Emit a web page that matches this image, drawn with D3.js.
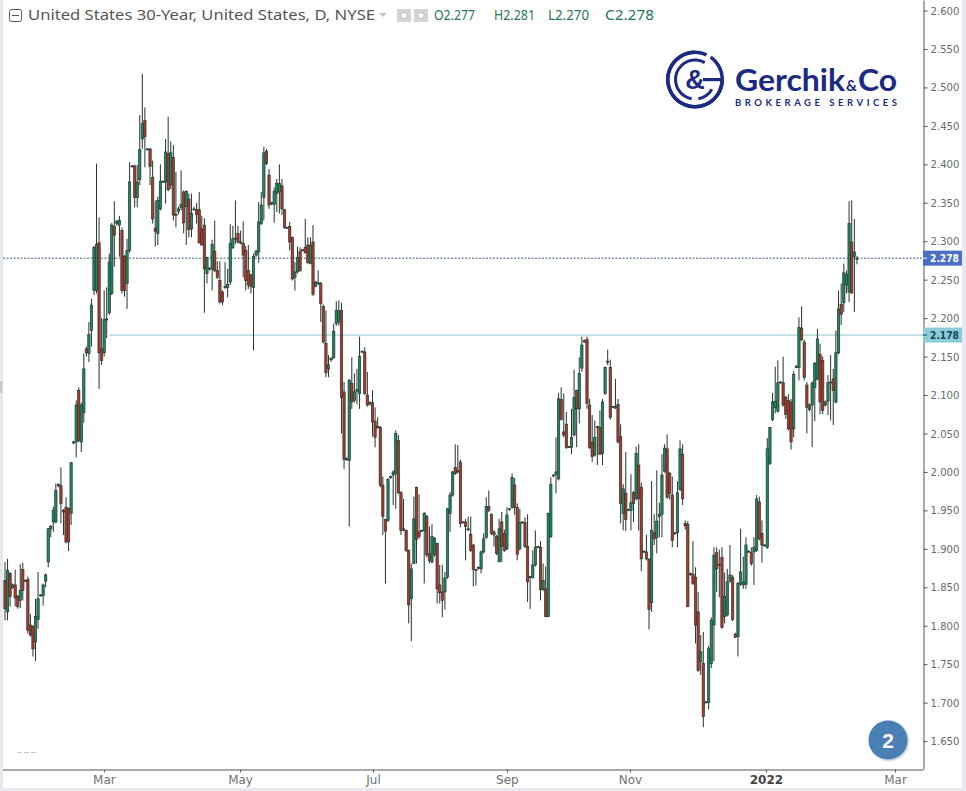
<!DOCTYPE html>
<html><head><meta charset="utf-8">
<script src="https://cdn.jsdelivr.net/npm/d3@7"></script>
<style>
html,body{margin:0;padding:0;background:#fff;overflow:hidden}
svg{display:block}
text{font-family:"Noto Sans",sans-serif}
</style></head><body>
<svg id="c" width="966" height="791"></svg>
<script>
const title = "United States 30-Year, United States, D, NYSE";
const ohlcLabels = ["O2.277","H2.281","L2.270","C2.278"];
const opens = [
1.859,1.818,1.868,1.850,1.853,1.838,1.833,1.873,1.858,1.860,
1.801,1.799,1.779,1.808,1.839,1.839,1.858,1.883,1.926,1.935,
1.935,1.984,1.982,1.950,1.954,1.952,1.946,2.038,2.039,2.106,
2.039,2.077,2.160,2.154,2.184,2.236,2.236,2.298,2.160,2.155,
2.198,2.207,2.232,2.319,2.323,2.321,2.314,2.280,2.245,2.288,
2.398,2.398,2.357,2.380,2.433,2.457,2.420,2.420,2.383,2.317,
2.310,2.342,2.377,2.377,2.414,2.373,2.409,2.334,2.339,2.344,
2.364,2.345,2.355,2.316,2.341,2.341,2.341,2.316,2.321,2.258,
2.264,2.264,2.287,2.262,2.249,2.234,2.240,2.240,2.247,2.292,
2.303,2.310,2.298,2.297,2.288,2.262,2.256,2.240,2.282,2.286,
2.323,2.357,2.417,2.386,2.350,2.348,2.362,2.364,2.372,2.341,
2.318,2.319,2.305,2.253,2.260,2.287,2.289,2.292,2.295,2.271,
2.299,2.241,2.245,2.245,2.215,2.167,2.134,2.146,2.149,2.193,
2.195,2.210,2.104,2.017,2.015,2.115,2.093,2.105,2.102,2.156,
2.156,2.100,2.089,2.090,2.066,2.058,2.058,1.983,1.938,1.937,
1.993,1.996,1.998,2.041,1.973,1.925,1.924,1.898,1.835,1.881,
1.980,1.922,1.923,1.924,1.942,1.894,1.883,1.893,1.907,1.853,
1.844,1.844,1.863,1.946,1.970,2.006,2.002,2.013,1.935,1.935,
1.925,1.919,1.905,1.873,1.875,1.874,1.896,1.915,1.955,1.945,
1.922,1.916,1.883,1.935,1.920,1.900,1.951,1.954,1.983,1.954,
1.900,1.934,1.934,1.903,1.863,1.863,1.879,1.902,1.902,1.847,
1.848,1.812,1.916,1.995,1.997,1.991,2.094,2.052,2.062,2.032,
2.032,2.048,2.106,2.082,2.135,2.169,2.172,2.087,2.039,2.022,
2.058,2.058,2.024,2.102,2.143,2.136,2.084,2.083,2.088,2.046,
1.946,1.972,1.950,1.950,1.973,1.965,2.009,1.980,1.896,1.896,
1.886,1.830,1.921,1.915,1.942,1.945,2.001,2.030,1.998,1.970,
1.920,1.921,1.977,2.023,1.933,1.932,1.867,1.867,1.863,1.818,
1.753,1.751,1.700,1.700,1.751,1.801,1.895,1.879,1.889,1.812,
1.814,1.858,1.863,1.789,1.786,1.854,1.853,1.854,1.896,1.895,
1.896,1.898,1.961,1.920,1.904,1.902,2.011,2.068,2.084,2.079,
2.116,2.116,2.097,2.093,2.091,2.056,2.137,2.136,2.187,2.169,
2.113,2.081,2.087,2.110,2.121,2.153,2.145,2.087,2.092,2.116,
2.121,2.091,2.155,2.218,2.220,2.243,2.234,2.299,2.280,2.277];
const highs = [
1.883,1.887,1.870,1.855,1.873,1.840,1.880,1.882,1.860,1.864,
1.815,1.801,1.835,1.870,1.841,1.855,1.868,1.927,1.931,1.955,
1.985,1.985,2.006,1.952,1.967,1.954,2.013,2.040,2.093,2.110,
2.090,2.154,2.163,2.195,2.225,2.294,2.401,2.331,2.200,2.236,
2.240,2.284,2.324,2.352,2.328,2.333,2.318,2.282,2.303,2.403,
2.399,2.399,2.399,2.464,2.518,2.474,2.421,2.421,2.405,2.353,
2.358,2.400,2.379,2.433,2.462,2.430,2.425,2.390,2.345,2.392,
2.366,2.366,2.362,2.362,2.345,2.350,2.364,2.333,2.330,2.280,
2.266,2.302,2.327,2.274,2.274,2.236,2.273,2.264,2.322,2.320,
2.353,2.320,2.314,2.326,2.294,2.295,2.258,2.284,2.289,2.351,
2.364,2.423,2.420,2.394,2.351,2.370,2.381,2.400,2.381,2.342,
2.319,2.325,2.306,2.273,2.293,2.292,2.290,2.329,2.305,2.305,
2.321,2.248,2.262,2.247,2.218,2.210,2.152,2.149,2.193,2.222,
2.223,2.220,2.117,2.019,2.121,2.149,2.128,2.134,2.176,2.158,
2.162,2.130,2.092,2.106,2.084,2.071,2.060,1.994,1.939,1.992,
1.995,2.002,2.054,2.048,1.975,1.965,1.925,1.899,1.881,1.968,
1.981,1.971,1.925,1.948,1.944,1.929,1.932,1.915,1.908,1.879,
1.879,1.870,1.953,1.974,2.001,2.036,2.035,2.016,1.936,1.939,
1.942,1.942,1.906,1.874,1.877,1.898,1.920,1.967,1.976,1.946,
1.924,1.918,1.939,1.948,1.925,1.954,1.953,1.998,1.992,1.959,
1.952,1.936,1.941,1.945,1.865,1.898,1.924,1.904,1.910,1.881,
1.877,1.947,1.993,1.997,2.045,2.103,2.110,2.102,2.078,2.034,
2.082,2.133,2.107,2.149,2.176,2.172,2.176,2.095,2.074,2.067,
2.060,2.080,2.095,2.137,2.159,2.146,2.086,2.121,2.095,2.062,
1.984,2.026,1.952,1.997,1.975,2.033,2.036,1.986,1.898,1.918,
1.888,1.988,1.945,2.002,1.960,2.023,2.036,2.049,2.000,1.994,
1.922,1.988,2.041,2.036,1.937,1.936,1.869,1.910,1.876,1.844,
1.788,1.792,1.702,1.774,1.811,1.902,1.902,1.899,1.902,1.869,
1.874,1.905,1.866,1.791,1.857,1.926,1.890,1.915,1.898,1.902,
1.915,1.970,1.968,1.937,1.906,2.044,2.058,2.103,2.137,2.145,
2.118,2.150,2.099,2.101,2.095,2.131,2.139,2.201,2.215,2.172,
2.117,2.089,2.118,2.143,2.186,2.167,2.150,2.093,2.126,2.152,
2.134,2.184,2.236,2.245,2.271,2.262,2.352,2.353,2.329,2.281];
const lows = [
1.807,1.807,1.825,1.848,1.825,1.822,1.823,1.833,1.857,1.790,
1.786,1.760,1.754,1.796,1.838,1.826,1.850,1.876,1.915,1.922,
1.933,1.980,1.933,1.918,1.907,1.897,1.931,2.036,2.019,2.039,
2.026,2.064,2.150,2.143,2.163,2.230,2.232,2.108,2.139,2.150,
2.174,2.204,2.230,2.267,2.320,2.280,2.232,2.228,2.212,2.285,
2.396,2.344,2.344,2.373,2.420,2.396,2.419,2.373,2.323,2.293,
2.295,2.340,2.376,2.349,2.365,2.368,2.327,2.318,2.335,2.340,
2.310,2.295,2.305,2.305,2.340,2.323,2.297,2.295,2.207,2.245,
2.262,2.236,2.260,2.251,2.219,2.217,2.238,2.227,2.243,2.290,
2.296,2.297,2.296,2.253,2.236,2.238,2.232,2.158,2.280,2.272,
2.321,2.327,2.399,2.342,2.347,2.324,2.338,2.336,2.334,2.316,
2.317,2.288,2.249,2.236,2.258,2.260,2.287,2.284,2.271,2.270,
2.229,2.240,2.243,2.195,2.167,2.123,2.123,2.143,2.147,2.190,
2.190,2.050,2.004,2.015,1.929,2.082,2.090,2.088,2.082,2.155,
2.100,2.085,2.086,2.046,2.032,2.056,1.980,1.918,1.855,1.935,
1.991,1.957,1.952,1.971,1.918,1.923,1.896,1.803,1.780,1.880,
1.881,1.913,1.922,1.855,1.889,1.881,1.881,1.890,1.829,1.829,
1.811,1.821,1.861,1.922,1.968,1.996,1.998,1.928,1.933,1.885,
1.923,1.896,1.851,1.852,1.873,1.868,1.894,1.913,1.948,1.918,
1.903,1.892,1.883,1.883,1.896,1.898,1.950,1.952,1.944,1.885,
1.898,1.933,1.901,1.831,1.822,1.861,1.877,1.901,1.833,1.845,
1.811,1.811,1.914,1.993,1.972,1.989,2.067,2.045,2.030,2.031,
2.023,2.046,2.032,2.063,2.130,2.168,2.082,2.030,2.013,2.020,
2.009,2.022,2.009,2.100,2.139,2.068,2.083,2.082,2.037,1.933,
1.924,1.923,1.949,1.924,1.935,1.963,1.924,1.871,1.895,1.885,
1.795,1.818,1.905,1.894,1.915,1.915,1.999,1.965,1.964,1.902,
1.918,1.902,1.975,1.957,1.925,1.824,1.865,1.853,1.777,1.740,
1.736,1.668,1.699,1.691,1.745,1.754,1.844,1.837,1.796,1.803,
1.812,1.856,1.806,1.784,1.760,1.852,1.848,1.848,1.895,1.878,
1.853,1.896,1.911,1.882,1.903,1.900,2.009,2.066,2.076,2.077,
2.115,2.085,2.069,2.054,2.029,2.045,2.135,2.119,2.170,2.119,
2.050,2.079,2.032,2.066,2.119,2.075,2.075,2.085,2.074,2.067,
2.061,2.089,2.153,2.191,2.208,2.232,2.221,2.231,2.208,2.270];
const closes = [
1.822,1.872,1.838,1.853,1.836,1.825,1.846,1.846,1.859,1.794,
1.788,1.770,1.812,1.835,1.840,1.853,1.866,1.926,1.929,1.950,
1.976,1.982,1.959,1.948,1.909,1.909,2.012,2.039,2.087,2.041,
2.087,2.134,2.155,2.179,2.217,2.292,2.296,2.155,2.145,2.198,
2.199,2.273,2.321,2.308,2.326,2.327,2.236,2.236,2.288,2.377,
2.397,2.357,2.377,2.419,2.453,2.436,2.420,2.397,2.329,2.313,
2.353,2.378,2.378,2.416,2.367,2.415,2.334,2.335,2.342,2.348,
2.324,2.365,2.315,2.336,2.342,2.335,2.298,2.295,2.264,2.279,
2.265,2.296,2.262,2.253,2.221,2.221,2.241,2.244,2.297,2.303,
2.304,2.299,2.299,2.282,2.249,2.243,2.241,2.280,2.287,2.325,
2.347,2.415,2.401,2.347,2.349,2.365,2.375,2.375,2.342,2.318,
2.318,2.299,2.251,2.260,2.279,2.262,2.288,2.285,2.272,2.295,
2.231,2.247,2.246,2.219,2.169,2.129,2.139,2.148,2.183,2.210,
2.210,2.097,2.016,2.016,2.119,2.091,2.104,2.107,2.150,2.157,
2.102,2.087,2.090,2.065,2.045,2.059,1.983,1.942,1.923,1.990,
1.994,2.000,2.050,1.973,1.924,1.926,1.898,1.827,1.874,1.939,
1.912,1.916,1.924,1.946,1.892,1.885,1.916,1.914,1.848,1.843,
1.833,1.862,1.952,1.970,2.000,1.998,2.000,1.933,1.934,1.929,
1.926,1.898,1.873,1.872,1.876,1.896,1.913,1.955,1.950,1.920,
1.918,1.894,1.926,1.903,1.898,1.944,1.952,1.993,1.954,1.893,
1.934,1.935,1.903,1.857,1.864,1.879,1.902,1.903,1.847,1.859,
1.812,1.946,1.984,1.996,2.000,2.095,2.068,2.048,2.032,2.033,
2.045,2.097,2.082,2.128,2.165,2.171,2.089,2.032,2.020,2.045,
2.059,2.023,2.091,2.136,2.144,2.071,2.085,2.085,2.039,1.959,
1.978,1.938,1.951,1.960,1.959,2.024,1.965,1.887,1.897,1.887,
1.821,1.924,1.913,1.936,1.945,1.996,2.031,1.967,1.972,1.911,
1.921,1.973,2.030,1.965,1.930,1.825,1.868,1.855,1.801,1.742,
1.766,1.682,1.701,1.770,1.807,1.892,1.874,1.880,1.798,1.838,
1.857,1.866,1.808,1.785,1.855,1.870,1.857,1.905,1.897,1.881,
1.902,1.965,1.913,1.905,1.905,2.030,2.058,2.091,2.092,2.116,
2.117,2.087,2.075,2.056,2.039,2.127,2.136,2.188,2.172,2.123,
2.084,2.087,2.115,2.141,2.173,2.091,2.080,2.091,2.116,2.117,
2.106,2.155,2.212,2.205,2.259,2.257,2.323,2.233,2.286,2.278];
const yTicks = [2.6,2.55,2.5,2.45,2.4,2.35,2.3,2.25,2.2,2.15,2.1,2.05,2,1.95,1.9,1.85,1.8,1.75,1.7,1.65];
const xTickLabels = ["Mar","May","Jul","Sep","Nov","2022","Mar"];
const xTickIndex = [38.9,91.8,143.2,195,242.6,294.5,343.4];
const lastPrice = 2.278, levelPrice = 2.178, levelStart = 41;

const W=966,H=791,plotR=923,plotB=769;
const svg=d3.select("#c");
const x=d3.scaleLinear().domain([-1,0,54,158,271,295,329,354]).range([2.46,5,142.3,411.3,703.3,767.3,857,923]);
const y=d3.scaleLinear().domain([2.6137,1.6137]).range([0,plotB]);
const UP="#1b8a60",DOWN="#b5352a",WICK="#24332d",EDGE="#25352e";

// frame bands
svg.append("rect").attr("width",W).attr("height",H).attr("fill","#fff");
svg.append("rect").attr("x",0).attr("y",0).attr("width",3).attr("height",H).attr("fill","#e8e9ee");
svg.append("rect").attr("x",962).attr("y",0).attr("width",4).attr("height",H).attr("fill","#e8e9ee");
svg.append("rect").attr("x",0).attr("y",788).attr("width",W).attr("height",3).attr("fill","#e8e9ee");
svg.append("rect").attr("x",0).attr("y",381).attr("width",2.5).attr("height",12).attr("fill","#c9cacd");

// reference lines
svg.append("line").attr("x1",3).attr("x2",plotR).attr("y1",y(lastPrice)).attr("y2",y(lastPrice))
  .attr("stroke","#3c5a86").attr("stroke-dasharray","2 1.5").attr("stroke-width",1);
svg.append("line").attr("x1",x(levelStart)).attr("x2",plotR).attr("y1",y(levelPrice)).attr("y2",y(levelPrice))
  .attr("stroke","#8fc3cd").attr("stroke-width",1);

// candles
const idx=d3.range(opens.length);
const g=svg.append("g");
g.selectAll("line.w").data(idx).join("line").attr("class","w")
  .attr("x1",i=>x(i)).attr("x2",i=>x(i)).attr("y1",i=>y(highs[i])).attr("y2",i=>y(lows[i]))
  .attr("stroke",WICK).attr("stroke-width",1);
g.selectAll("rect.b").data(idx).join("rect").attr("class","b")
  .attr("x",i=>x(i)-1.15).attr("width",2.3)
  .attr("y",i=>y(Math.max(opens[i],closes[i])))
  .attr("height",i=>Math.max(1,Math.abs(y(opens[i])-y(closes[i]))))
  .attr("fill",i=>closes[i]>=opens[i]?UP:DOWN)
  .attr("stroke",EDGE).attr("stroke-width",0.7);

// axes
const yAxis=d3.axisRight(y).tickValues(yTicks).tickFormat(d3.format(".3f")).tickSize(4).tickSizeOuter(0);
const ya=svg.append("g").attr("transform",`translate(${plotR+0.5},0)`).call(yAxis);
ya.select(".domain").attr("stroke","#555");
ya.selectAll(".tick line").attr("stroke","#555");
ya.selectAll(".tick text").attr("x",7).attr("fill","#6a6a6a")
  .style("font-size","11px").style("font-family","'DejaVu Sans',sans-serif").attr("textLength",29).attr("lengthAdjust","spacingAndGlyphs");

const xAxis=d3.axisBottom(x).tickValues(xTickIndex).tickFormat((d,i)=>xTickLabels[i]).tickSize(3).tickSizeOuter(0);
const xa=svg.append("g").attr("transform",`translate(0,${plotB+0.5})`).call(xAxis);
xa.select(".domain").attr("stroke","#555");
xa.selectAll(".tick line").attr("stroke","#555");
xa.selectAll(".tick text").attr("y",6).attr("fill",(d,i)=>xTickLabels[i]==="2022"?"#444":"#707070")
  .style("font-size","12px").style("font-family","'DejaVu Sans',sans-serif")
  .style("font-weight",(d,i)=>xTickLabels[i]==="2022"?"600":"400");

// price tags
function tag(v,fill,col){
  const cy=y(v);
  svg.append("rect").attr("x",plotR).attr("y",cy-7.5).attr("width",39).attr("height",15).attr("fill",fill);
  svg.append("line").attr("x1",plotR).attr("x2",plotR+4).attr("y1",cy).attr("y2",cy).attr("stroke",col);
  svg.append("text").attr("x",930).attr("y",cy+4).attr("fill",col).attr("font-weight","700")
    .attr("textLength",29).attr("lengthAdjust","spacingAndGlyphs")
    .style("font-size","11px").style("font-family","'DejaVu Sans',sans-serif").text(d3.format(".3f")(v));
}
tag(lastPrice,"#4a6fc5","#fff");
tag(levelPrice,"#8ccbd8","#124a58");

// header
svg.append("rect").attr("x",9.5).attr("y",9.5).attr("width",12).attr("height",12).attr("rx",2)
  .attr("fill","#fff").attr("stroke","#555");
svg.append("line").attr("x1",12).attr("x2",19).attr("y1",15.5).attr("y2",15.5).attr("stroke","#555");
svg.append("text").attr("x",28).attr("y",20).attr("fill","#555")
  .attr("textLength",347).attr("lengthAdjust","spacingAndGlyphs")
  .style("font-size","15px").text(title);
svg.append("path").attr("d",d3.line()([[379,13],[387,13],[383,17]])+"Z").attr("fill","#c4c4c4");
[397,414].forEach(px=>{
  svg.append("rect").attr("x",px).attr("y",9).attr("width",14).attr("height",13).attr("fill","#d4d4d4");
  svg.append("circle").attr("cx",px+7).attr("cy",15.5).attr("r",3.2).attr("fill","#fff").attr("stroke","#bbb");
});
const headerX=[434,494,548,605];
ohlcLabels.forEach((t,i)=>{
  svg.append("text").attr("x",headerX[i]).attr("y",20).attr("fill","#2a7457")
    .attr("textLength",i===3?49:41).attr("lengthAdjust","spacingAndGlyphs")
    .style("font-size","14.5px").text(t);
});

// logo
const NAVY="#1c2a82";
const lg=svg.append("g").attr("transform","translate(695,79.5)");
const rad=d=>d*Math.PI/180;
const arc=d3.arc();
lg.append("path").attr("d",arc({innerRadius:25.5,outerRadius:29,startAngle:rad(-325),endAngle:rad(25)})).attr("fill",NAVY);
lg.append("path").attr("d",arc({innerRadius:25.5,outerRadius:29,startAngle:rad(90),endAngle:rad(180)})).attr("fill",NAVY);
lg.append("path").attr("d",arc({innerRadius:25.5,outerRadius:29,startAngle:rad(180),endAngle:rad(360)})).attr("fill",NAVY);
lg.append("path").attr("d",arc({innerRadius:18,outerRadius:21,startAngle:rad(190),endAngle:rad(390)})).attr("fill",NAVY);
lg.append("path").attr("d",arc({innerRadius:18,outerRadius:21,startAngle:rad(120),endAngle:rad(170)})).attr("fill",NAVY);
lg.append("rect").attr("x",8).attr("y",-1.5).attr("width",20).attr("height",3.2).attr("fill",NAVY);
lg.append("text").attr("x",0).attr("y",9.5).attr("text-anchor","middle").attr("fill",NAVY).attr("font-weight","700")
  .style("font-size","27px").style("font-family","'Liberation Sans',sans-serif").text("&");
svg.append("text").attr("x",735).attr("y",91).attr("fill",NAVY).attr("font-weight","700")
  .attr("textLength",110).attr("lengthAdjust","spacingAndGlyphs")
  .style("font-size","31px").style("font-family","Lato,sans-serif").text("Gerchik");
svg.append("text").attr("x",846).attr("y",91).attr("fill",NAVY).attr("font-weight","700")
  .style("font-size","15px").style("font-family","Lato,sans-serif").text("&");
svg.append("text").attr("x",858).attr("y",91).attr("fill",NAVY).attr("font-weight","700")
  .attr("textLength",39).attr("lengthAdjust","spacingAndGlyphs")
  .style("font-size","31px").style("font-family","Lato,sans-serif").text("Co");
svg.append("text").attr("x",735).attr("y",106).attr("fill",NAVY).attr("font-weight","700")
  .attr("textLength",162).style("font-size","9.5px").style("font-family","Lato,sans-serif").text("BROKERAGE SERVICES");

// badge
const defs=svg.append("defs");
const f=defs.append("filter").attr("id","sh").attr("x","-30%").attr("y","-30%").attr("width","160%").attr("height","160%");
f.append("feDropShadow").attr("dx",1).attr("dy",1).attr("stdDeviation",1).attr("flood-color","#000").attr("flood-opacity",0.3);
svg.append("circle").attr("cx",888).attr("cy",740).attr("r",19.5).attr("fill","#4a7fb5").attr("filter","url(#sh)");
svg.append("text").attr("x",888).attr("y",747.5).attr("text-anchor","middle").attr("fill","#fff").attr("font-weight","700")
  .style("font-size","21px").style("font-family","'Liberation Sans',sans-serif").text("2");

// faint footer marks
svg.append("line").attr("x1",17).attr("x2",36).attr("y1",752.5).attr("y2",752.5).attr("stroke","#c8c8c8").attr("stroke-dasharray","5 2");
</script>
</body></html>
